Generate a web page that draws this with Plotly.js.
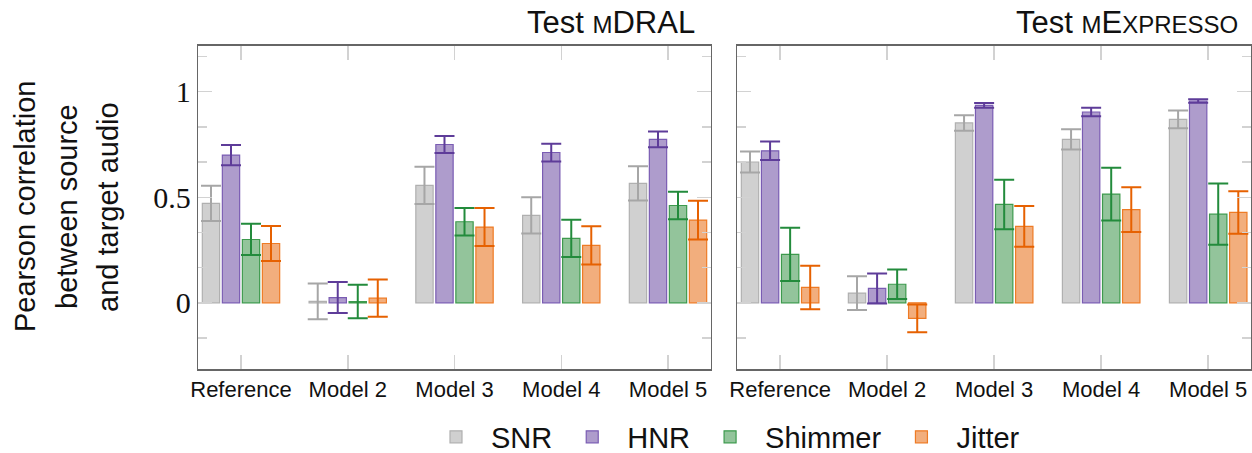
<!DOCTYPE html>
<html>
<head>
<meta charset="utf-8">
<script src="https://cdn.plot.ly/plotly-3.0.1.min.js"></script>
<style>html,body{margin:0;padding:0;background:#fff;}#chart{width:1252px;height:453px;}</style>
</head>
<body>
<div id="chart"></div>
<script>
// ---- Data ----
const categories = ["Reference", "Model 2", "Model 3", "Model 4", "Model 5"];
const metrics = ["SNR", "HNR", "Shimmer", "Jitter"];

// Test mDRAL
const mdralSNR = [0.471, 0.007, 0.556, 0.414, 0.566];
const mdralSNRerr = [0.084, 0.085, 0.088, 0.086, 0.081];
const mdralHNR = [0.700, 0.025, 0.750, 0.712, 0.774];
const mdralHNRerr = [0.048, 0.073, 0.040, 0.042, 0.037];
const mdralShimmer = [0.300, 0.006, 0.384, 0.305, 0.461];
const mdralShimmerErr = [0.074, 0.079, 0.065, 0.088, 0.065];
const mdralJitter = [0.281, 0.022, 0.359, 0.272, 0.392];
const mdralJitterErr = [0.083, 0.088, 0.090, 0.091, 0.092];

// Test mExpresso
const mexpSNR = [0.667, 0.046, 0.852, 0.774, 0.869];
const mexpSNRerr = [0.050, 0.080, 0.037, 0.048, 0.042];
const mexpHNR = [0.720, 0.068, 0.935, 0.904, 0.956];
const mexpHNRerr = [0.044, 0.071, 0.011, 0.020, 0.008];
const mexpShimmer = [0.229, 0.088, 0.466, 0.515, 0.420];
const mexpShimmerErr = [0.126, 0.070, 0.117, 0.125, 0.145];
const mexpJitter = [0.073, -0.074, 0.362, 0.441, 0.428];
const mexpJitterErr = [0.103, 0.066, 0.097, 0.106, 0.101];

// Y-axis title lines
const yTitleLines = ["Pearson correlation", "between source", "and target audio"];

// ---- Styles ----
const fills = {SNR: "#d0d0d0", HNR: "#ae9ccc", Shimmer: "#93c49b", Jitter: "#f2ae7d"};
const edges = {SNR: "#b0b0b0", HNR: "#7a5cb3", Shimmer: "#3d9a4d", Jitter: "#ee7b25"};
const errCols = {SNR: "#a6a6a6", HNR: "#5e3c99", Shimmer: "#238b3c", Jitter: "#e66101"};

const leftVals = {SNR: [mdralSNR, mdralSNRerr], HNR: [mdralHNR, mdralHNRerr], Shimmer: [mdralShimmer, mdralShimmerErr], Jitter: [mdralJitter, mdralJitterErr]};
const rightVals = {SNR: [mexpSNR, mexpSNRerr], HNR: [mexpHNR, mexpHNRerr], Shimmer: [mexpShimmer, mexpShimmerErr], Jitter: [mexpJitter, mexpJitterErr]};

const traces = [];
function addPanel(vals, xa, ya, showLegend) {
  metrics.forEach(m => {
    traces.push({
      type: "bar", name: m, x: categories, y: vals[m][0],
      xaxis: xa, yaxis: ya, legendgroup: m, showlegend: showLegend,
      marker: {color: fills[m], line: {color: edges[m], width: 1.2}},
      error_y: {type: "data", array: vals[m][1], visible: true, color: errCols[m], thickness: 2, width: 10},
      hoverinfo: "skip"
    });
  });
}
addPanel(leftVals, "x", "y", true);
addPanel(rightVals, "x2", "y2", false);

const sans = "Liberation Sans, Arial, sans-serif";
const yRange = [-0.315, 1.218];
const commonX = {
  type: "category", range: [-0.4, 4.4], showline: true, linecolor: "#666", linewidth: 1.5,
  mirror: "all", ticks: "inside", ticklen: 14, tickcolor: "#d2d2d2", tickwidth: 1.5,
  showgrid: false, zeroline: false, tickfont: {family: sans, size: 22, color: "#111"}
};
const commonY = {
  range: yRange, showline: true, linecolor: "#666", linewidth: 1.5, mirror: "all",
  ticks: "inside", ticklen: 14, tickcolor: "#d2d2d2", tickwidth: 1.5, dtick: 0.5, tick0: 0,
  minor: {dtick: 1/6, tick0: 0, ticks: "inside", ticklen: 9, tickcolor: "#d2d2d2", tickwidth: 1.5, showgrid: false},
  showgrid: false, zeroline: false
};

const yTitleX = [25, 67, 108];
const annotations = [
  {xref: "paper", yref: "paper", x: 697/1252, y: 1 - 22/453, xanchor: "right", yanchor: "middle",
   showarrow: false, font: {family: sans, size: 31, color: "#111"},
   text: "Test <span style='font-size:24px'>M</span>DRAL"},
  {xref: "paper", yref: "paper", x: 1240/1252, y: 1 - 22/453, xanchor: "right", yanchor: "middle",
   showarrow: false, font: {family: sans, size: 31, color: "#111"},
   text: "Test <span style='font-size:24px'>M</span>E<span style='font-size:24px'>XPRESSO</span>"}
];
yTitleLines.forEach((t, i) => {
  annotations.push({xref: "paper", yref: "paper", x: yTitleX[i]/1252, y: 1 - 207/453,
    xanchor: "center", yanchor: "middle", showarrow: false, textangle: -90,
    font: {family: sans, size: 29, color: "#111"}, text: t});
});

const layout = {
  width: 1252, height: 453,
  margin: {l: 0, r: 0, t: 0, b: 0, autoexpand: false},
  paper_bgcolor: "#fff", plot_bgcolor: "#fff",
  barmode: "group", bargap: 0.25, bargroupgap: 0.135,
  font: {family: sans, color: "#111"},
  xaxis: Object.assign({}, commonX, {domain: [198.3/1252, 710.7/1252], anchor: "y"}),
  xaxis2: Object.assign({}, commonX, {domain: [737.3/1252, 1251/1252], anchor: "y2"}),
  yaxis: Object.assign({}, commonY, {domain: [1 - 369.3/453, 1 - 45.7/453], anchor: "x",
    showticklabels: true, tickfont: {family: "Liberation Serif, DejaVu Serif, serif", size: 30, color: "#111"}}),
  yaxis2: Object.assign({}, commonY, {domain: [1 - 369.3/453, 1 - 45.7/453], anchor: "x2", showticklabels: false}),
  showlegend: true,
  legend: {orientation: "h", x: 723/1252, xanchor: "center", y: 1 - 437/453, yanchor: "middle",
    font: {family: sans, size: 29, color: "#111"}, itemwidth: 60, traceorder: "normal"},
  annotations: annotations
};

Plotly.newPlot("chart", traces, layout, {displayModeBar: false, staticPlot: true});
</script>
</body>
</html>
